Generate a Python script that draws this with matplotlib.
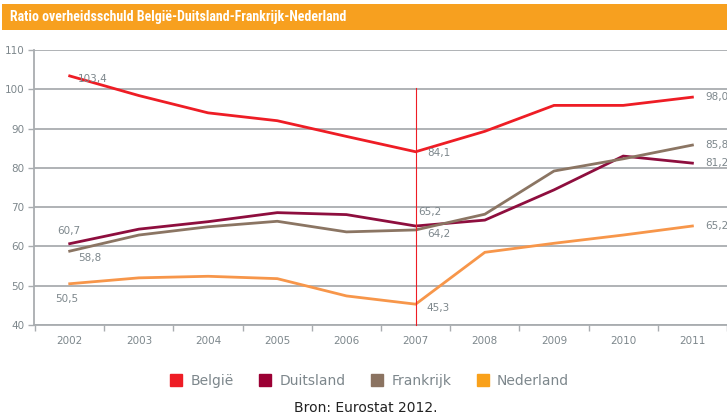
import matplotlib
matplotlib.use("Agg")
import matplotlib.pyplot as plt
from matplotlib.patches import Rectangle
from matplotlib.lines import Line2D

years = ["2002", "2003", "2004", "2005", "2006", "2007", "2008", "2009", "2010", "2011"]
belgie = [103.4, 98.4, 94.0, 92.0, 88.0, 84.1, 89.3, 95.9, 95.9, 98.0]
duitsland = [60.7, 64.4, 66.3, 68.6, 68.1, 65.2, 66.7, 74.4, 83.0, 81.2]
frankrijk = [58.8, 62.9, 65.0, 66.4, 63.7, 64.2, 68.2, 79.2, 82.3, 85.8]
nederland = [50.5, 52.0, 52.4, 51.8, 47.4, 45.3, 58.5, 60.8, 62.9, 65.2]
series_names = ["België", "Duitsland", "Frankrijk", "Nederland"]
title = "Ratio overheidsschuld België-Duitsland-Frankrijk-Nederland"
source = "Bron: Eurostat 2012."

line_colors = ["#EE1D25", "#8E0E3E", "#8B7563", "#F7964A"]
legend_colors = ["#EE1D25", "#9B0034", "#8B7361", "#F9A11B"]
txt_gray = "#7D878C"
grid_gray = "#A9ADB0"

fig = plt.figure(figsize=(7.27, 4.16), dpi=100)
fig.patch.set_facecolor("white")

# title bar
fig.patches.append(Rectangle((2/727, 1-30/416), 725/727, 26/416, transform=fig.transFigure,
                             facecolor="#F7A01F", edgecolor="none"))
fig.text(10/727, 1-17/416, title, color="white", fontsize=10, fontweight="bold",
         family=["Roboto Condensed", "Open Sans Condensed", "Liberation Sans Narrow", "Liberation Sans"],
         va="center", ha="left")

ax = fig.add_axes([34/727, 1-325/416, (727-34)/727, 275/416])
x = list(range(len(years)))
for vals, c in zip([belgie, duitsland, frankrijk, nederland], line_colors):
    ax.plot(x, vals, color=c, lw=2, solid_joinstyle="miter", zorder=3)

ax.set_xlim(-0.516, 9.43)
ax.set_ylim(40, 110)
ax.set_yticks(range(40, 111, 10))
ax.yaxis.grid(True, color=grid_gray, lw=1.3)
ax.set_axisbelow(True)
ax.set_xticks(x)
ax.set_xticklabels(years)
ax.set_xticks([i - 0.5 for i in range(len(years) + 1)], minor=True)
ax.tick_params(axis="x", which="major", length=0, pad=8, labelsize=7.5, labelcolor=txt_gray)
ax.tick_params(axis="x", which="minor", length=4, color=grid_gray, width=1)
ax.tick_params(axis="y", length=4, color=grid_gray, width=1, labelsize=7.5, labelcolor=txt_gray, pad=3)
for s in ["top", "right"]:
    ax.spines[s].set_visible(False)
for s in ["left", "bottom"]:
    ax.spines[s].set_color(grid_gray)
    ax.spines[s].set_linewidth(1.3)

# vertical marker line at 2007
ax.plot([5, 5], [40, 100.4], color="#EE1D25", lw=0.8, zorder=4, clip_on=False)

lab = dict(color=txt_gray, fontsize=7.5)
ax.annotate("103,4", (0, belgie[0]), xytext=(6, -2), textcoords="offset points", va="center", **lab)
ax.annotate("60,7", (0, duitsland[0]), xytext=(-1, 9), textcoords="offset points", va="center", ha="center", **lab)
ax.annotate("58,8", (0, frankrijk[0]), xytext=(6, -5), textcoords="offset points", va="center", **lab)
ax.annotate("50,5", (0, nederland[0]), xytext=(-2, -11), textcoords="offset points", va="center", ha="center", **lab)
ax.annotate("84,1", (5, belgie[5]), xytext=(8, -1), textcoords="offset points", va="center", **lab)
ax.annotate("65,2", (5, duitsland[5]), xytext=(2, 10), textcoords="offset points", va="center", **lab)
ax.annotate("64,2", (5, frankrijk[5]), xytext=(8, -3), textcoords="offset points", va="center", **lab)
ax.annotate("45,3", (5, nederland[5]), xytext=(8, -3), textcoords="offset points", va="center", **lab)
for vals in [belgie, frankrijk, duitsland, nederland]:
    ax.annotate(f"{vals[-1]:.1f}".replace(".", ","), (9, vals[-1]), xytext=(9, 0),
                textcoords="offset points", va="center", annotation_clip=False, **lab)

handles = [Line2D([], [], marker="s", ls="none", markersize=8, markerfacecolor=c,
                  markeredgecolor=c) for c in legend_colors]
leg = fig.legend(handles, series_names, loc="center", bbox_to_anchor=(370/727, 1-381/416),
                 ncol=4, frameon=False, fontsize=10, handletextpad=0.6, columnspacing=1.9,
                 handlelength=0.8)
for t in leg.get_texts():
    t.set_color(txt_gray)

fig.text(366/727, 1-408/416, source, ha="center", va="center", fontsize=10, color="#222222")

fig.savefig("out.png", dpi=100)
